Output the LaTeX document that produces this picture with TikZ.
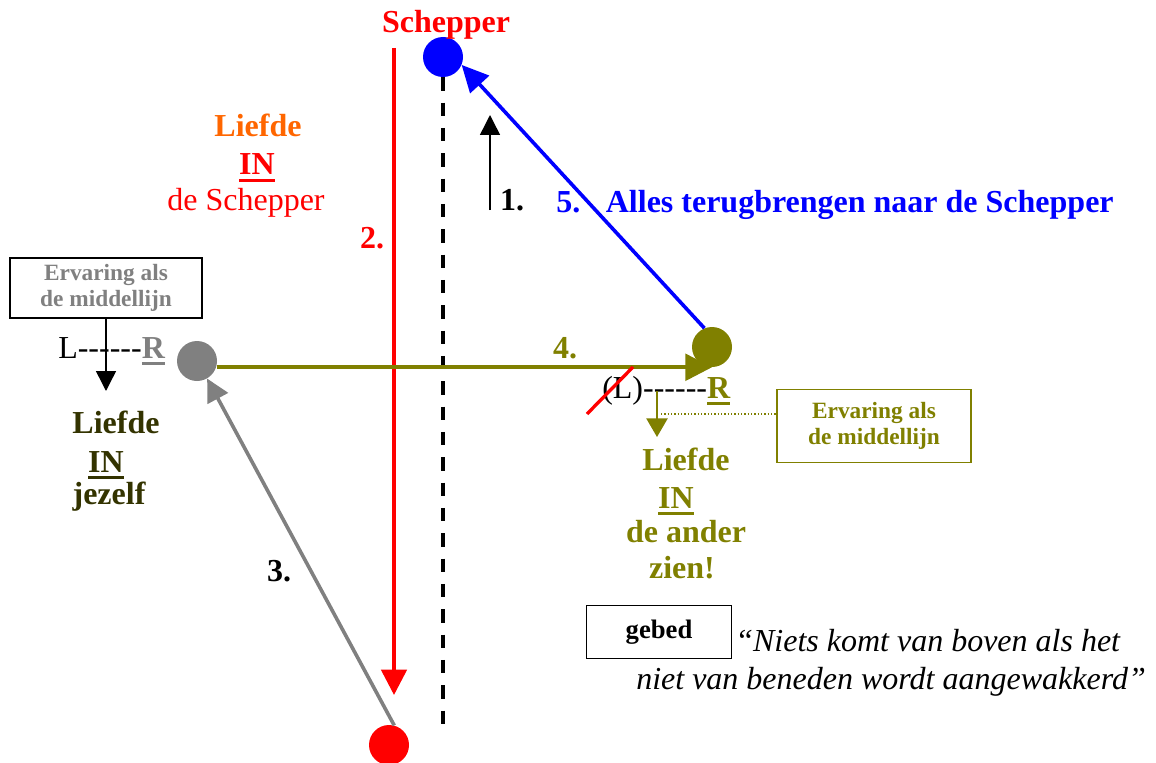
\documentclass[tikz,border=0pt]{standalone}
\usepackage{fontspec}
\setmainfont{Liberation Serif}
\usepackage{xcolor}
\definecolor{colRed}{HTML}{FF0000}
\definecolor{colBlue}{HTML}{0000FF}
\definecolor{colOlive}{HTML}{808000}
\definecolor{colDark}{HTML}{333300}
\definecolor{colGrey}{HTML}{808080}
\definecolor{colOrange}{HTML}{FF6600}
\usetikzlibrary{arrows.meta}
\newlength{\ondw}
\newcommand{\onderstreep}[1]{\settowidth{\ondw}{#1}\rlap{\rule[-5pt]{\ondw}{2pt}}#1}
\newcommand{\streep}{\mbox{-}}
\begin{document}
\begin{tikzpicture}[x={(0.75pt,0)}, y={(0,-0.75pt)},
    txt/.style={inner sep=0pt, anchor=base, font=\fontsize{24}{28}\selectfont\bfseries},
    txtreg/.style={txt, font=\fontsize{24}{28}\selectfont},
    kader/.style={draw, line width=1.1pt, inner sep=0pt, align=center, font=\fontsize{17.5}{20}\selectfont\bfseries},
    dot/.style={circle, inner sep=0pt, minimum size=30pt},
    pijl/.style={line width=2.7pt, -{Triangle[length=19pt,width=19pt]}},
    dunpijl/.style={line width=1.1pt, -{Triangle[length=15pt,width=15pt]}}]
        \useasboundingbox (0,0) rectangle (1156,763);
        % Circles
        \node[dot, fill=colBlue] (schepper) at (443,57) {};
        \node[dot, fill=colRed] (bodem) at (389,745) {};
        \node[dot, fill=colGrey] (zelf) at (197,361) {};
        \node[dot, fill=colOlive] (ander) at (712,347) {};
        % Vertical axis and arrow 2
        \coordinate (rodeTop) at (394,48);
        \coordinate (rodeTip) at (394,695);
        \coordinate (asEind) at (443,735);
        \draw[line width=2.6pt, dash pattern=on 10pt off 9pt] (schepper.south) -- (asEind);
        \draw[pijl, colRed] (rodeTop) -- (rodeTip);
        % Top labels
        \node[txt, colRed] (titel) at (446,33) {Schepper};
        \node[txt, colOrange] (liefdeS) at (258,137) {Liefde};
        \node[txt, colRed] (inS) at (257,175) {\onderstreep{IN}};
        \node[txtreg, colRed] (deS) at (246,210) {de Schepper};
        \node[txt, colRed] (twee) at (372,248) {2.};
        % Arrow 1
        \coordinate (eenVoet) at (490,210);
        \coordinate (eenTip) at (490,115);
        \draw[dunpijl] (eenVoet) -- (eenTip);
        \node[txt] (een) at (512,210) {1.};
        % Arrow 5
        \draw[pijl, colBlue, -{Triangle[length=20pt,width=19pt]}] (ander.112) -- (schepper.-23);
        \node[txt, colBlue, anchor=base west] (vijf) at (556,212) {5.\hspace{0.8em}Alles terugbrengen naar de Schepper};
        % Left side
        \node[kader, minimum width=144pt, minimum height=45pt, text=colGrey] (boxL) at (106,288) {Ervaring als\\de middellijn};
        \coordinate (pijlL) at (106,391);
        \draw[dunpijl] (boxL.south) -- (pijlL);
        \node[txtreg, anchor=base west] (lrL) at (58,358) {L\streep\streep\streep\streep\streep\streep\textbf{\color{colGrey}\onderstreep{R}}};
        \node[txt, colDark] (liefdeZ) at (116,433) {Liefde};
        \node[txt, colDark] (inZ) at (106,472) {\onderstreep{IN}};
        \node[txt, colDark] (jezelf) at (109,504) {jezelf};
        % Arrow 4
        \draw[pijl, colOlive, -{Triangle[length=20pt,width=20pt]}] (zelf.east |- ander.south) -- (ander.south);
        \node[txt, colOlive] (vier) at (565,358) {4.};
        % Arrow 3
        \draw[pijl, colGrey, -{Triangle[length=17pt,width=17pt]}] (bodem.75) -- (zelf.-60);
        \node[txt] (drie) at (279,581) {3.};
        % Right side
        \node[txtreg, anchor=base west] (lrR) at (602,398) {(L)\streep\streep\streep\streep\streep\streep\textbf{\color{colOlive}\onderstreep{R}}};
        \coordinate (streepA) at (587,414);
        \coordinate (streepB) at (633,367);
        \draw[colRed, line width=2.5pt] (streepA) -- (streepB);
        \coordinate (pijlRtop) at (657,391);
        \coordinate (pijlRtip) at (657,437);
        \draw[dunpijl, colOlive, -{Triangle[length=14pt,width=16pt]}] (pijlRtop) -- (pijlRtip);
        \node[kader, draw=colOlive, text=colOlive, minimum width=145.5pt, minimum height=55pt] (boxR) at (874,426) {Ervaring als\\de middellijn};
        \coordinate (stipL) at (661,414);
        \draw[colOlive, line width=1pt, dash pattern=on 1pt off 1.5pt] (stipL) -- (stipL -| boxR.west);
        \node[txt, colOlive] (liefdeA) at (686,470) {Liefde};
        \node[txt, colOlive] (inA) at (676,508) {\onderstreep{IN}};
        \node[txt, colOlive] (deander) at (686,542) {de ander};
        \node[txt, colOlive] (zien) at (682,578) {zien!};
        % Prayer and quote
        \node[kader, font=\fontsize{20}{24}\selectfont\bfseries, minimum width=109pt, minimum height=40pt] (gebed) at (659,632) {gebed};
        \node[txtreg, anchor=base west, font=\fontsize{24}{28}\selectfont\itshape] (citaatA) at (735,651) {“Niets komt van boven als het};
        \node[txtreg, anchor=base west, font=\fontsize{24}{28}\selectfont\itshape] (citaatB) at (636,689) {niet van beneden wordt aangewakkerd”};
    \end{tikzpicture}
\end{document}
